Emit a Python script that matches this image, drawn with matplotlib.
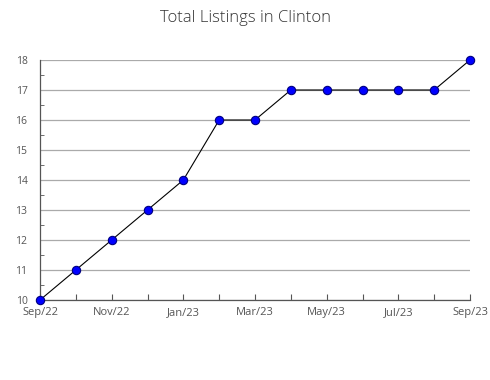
import numpy as np
import matplotlib.pyplot as plt
from matplotlib.ticker import MultipleLocator

plt.rcParams['font.family'] = ['Open Sans', 'DejaVu Sans']

months = ['Sep/22', 'Oct/22', 'Nov/22', 'Dec/22', 'Jan/23', 'Feb/23', 'Mar/23',
          'Apr/23', 'May/23', 'Jun/23', 'Jul/23', 'Aug/23', 'Sep/23']
listings = [10, 11, 12, 13, 14, 16, 16, 17, 17, 17, 17, 17, 18]

x = np.arange(len(months))

fig = plt.figure(figsize=(4.9, 3.8), dpi=100)
ax = fig.add_axes([40 / 490, 80 / 380, 430 / 490, 240 / 380])

ax.plot(x, listings, color='black', linewidth=0.8, marker='o', markersize=6,
        markerfacecolor='#0000ff', markeredgecolor='#000080', markeredgewidth=0.8,
        zorder=3, clip_on=False)

ax.set_xlim(0, len(months) - 1)
ax.set_ylim(10, 18)
ax.set_xticks(x)
ax.set_xticklabels([m if i % 2 == 0 else '' for i, m in enumerate(months)])
ax.yaxis.set_major_locator(MultipleLocator(1))
ax.yaxis.set_minor_locator(MultipleLocator(0.5))

ax.grid(axis='y', which='major', color='#aaaaaa', linewidth=0.9)
ax.tick_params(axis='x', direction='in', length=4, color='#555555',
               labelsize=8, labelcolor='#555555', pad=5)
ax.tick_params(axis='y', which='major', length=0, labelsize=7.5,
               labelcolor='#555555', pad=9)
ax.tick_params(axis='y', which='minor', direction='in', length=3, color='#555555')

for s in ['top', 'right']:
    ax.spines[s].set_visible(False)
for s in ['left', 'bottom']:
    ax.spines[s].set_color('#555555')
    ax.spines[s].set_linewidth(0.9)

fig.suptitle('Total Listings in Clinton', x=0.5, y=0.975, fontsize=12,
             color='#333333', fontweight='light')

fig.savefig('out.png', dpi=100)
